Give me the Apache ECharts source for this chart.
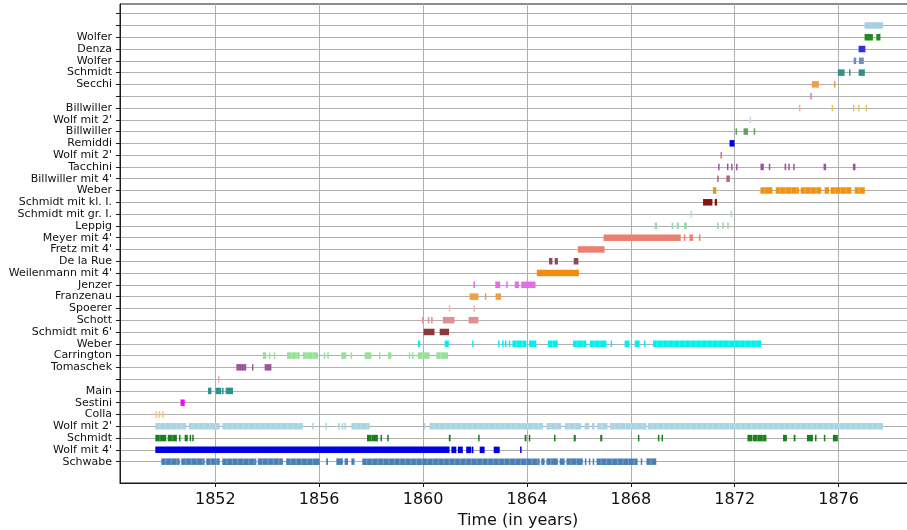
<!DOCTYPE html>
<html>
<head>
<meta charset="utf-8">
<script src="https://cdn.jsdelivr.net/npm/echarts@6/dist/echarts.min.js"></script>
<style>
  html, body { margin: 0; padding: 0; background: #fff; }
  #chart { width: 907px; height: 530px; }
</style>
</head>
<body>
<div id="chart"></div>
<script>
// Observer rows, bottom to top (empty strings are unlabeled rows)
const observers = [
  "Schwabe", "Wolf mit 4'", "Schmidt", "Wolf mit 2'", "Colla", "Sestini", "Main", "",
  "Tomaschek", "Carrington", "Weber", "Schmidt mit 6'", "Schott", "Spoerer", "Franzenau",
  "Jenzer", "Weilenmann mit 4'", "De la Rue", "Fretz mit 4'", "Meyer mit 4'", "Leppig",
  "Schmidt mit gr. I.", "Schmidt mit kl. I.", "Weber", "Billwiller mit 4'", "Tacchini",
  "Wolf mit 2'", "Remiddi", "Billwiller", "Wolf mit 2'", "Billwiller", "", "Secchi",
  "Schmidt", "Wolfer", "Denza", "Wolfer", "", ""
];

const rowColors = [
  "#4a7fb5", "#0000e6", "#1a801a", "#a8d4e4", "#f5c27a", "#ff00ff", "#2b9090", "#f0a0b8",
  "#9a5a9a", "#98e098", "#00f0f0", "#8a3a3a", "#e09090", "#f0b8b0", "#f0a040",
  "#e070e0", "#f08c10", "#8a4a5a", "#ec8070", "#ec8070", "#98d8a8",
  "#a0e0e0", "#8b1010", "#f49010", "#b06080", "#a050a0",
  "#d07878", "#0000e0", "#60a060", "#c0d8e8", "#f0c060", "#e070e0", "#f0a040",
  "#309090", "#7090b0", "#3030e0", "#208a20", "#a8d0e0", "#a8d0e0"
];

// Rows whose long runs show the individual daily strokes
const streakedRows = [0, 2, 3, 9, 10, 23];

const yearTicks = [1852, 1856, 1860, 1864, 1868, 1872, 1876];

// Observation spans in decimal years: [start, end] or [day] for a single observation
const schwabe = [[1849.92, 1850.63], [1850.69, 1851.59], [1851.65, 1852.17], [1852.27, 1853.58],
  [1853.64, 1854.60], [1854.73, 1856.02], [1856.27, 1856.34], [1856.66, 1856.91], [1856.98, 1857.11],
  [1857.24, 1857.36], [1857.66, 1864.49], [1864.55, 1864.68], [1864.75, 1865.19], [1865.26, 1865.45],
  [1865.52, 1866.15], [1866.26], [1866.41], [1866.56], [1866.68, 1868.26], [1868.40, 1868.42],
  [1868.60, 1868.98]];
const wolf4 = [[1849.69, 1861.02], [1861.09, 1861.28], [1861.34, 1861.53], [1861.66, 1861.86],
  [1861.91], [1862.18, 1862.37], [1862.72, 1862.95], [1863.74, 1863.79]];
const schmidt = [[1849.69, 1850.11], [1850.17, 1850.52], [1850.63], [1850.82, 1850.94], [1851.04],
  [1851.14], [1857.84, 1858.26], [1858.39], [1858.65], [1860.99, 1861.06], [1862.15],
  [1863.91, 1863.98], [1864.10], [1865.07], [1865.80, 1865.88], [1866.82, 1866.90], [1868.30],
  [1869.07], [1869.21], [1872.49, 1872.68], [1872.70, 1873.22], [1873.86, 1874.01],
  [1874.27, 1874.34], [1874.78, 1875.01], [1875.12], [1875.46], [1875.78, 1875.97]];
const wolf2 = [[1849.69, 1850.88], [1850.98, 1852.17], [1852.27, 1855.37], [1855.76], [1856.27],
  [1856.76], [1856.90], [1857.00], [1857.24, 1857.94], [1860.06], [1860.25, 1864.62],
  [1864.75, 1865.32], [1865.46, 1866.09], [1866.22, 1866.40], [1866.50, 1866.60], [1866.70, 1867.10],
  [1867.20, 1868.60], [1868.66, 1877.71]];
const colla = [[1849.73], [1849.85], [1849.98]];
const sestini = [[1850.66, 1850.82]];
const main = [[1851.72, 1851.85], [1852.01, 1852.23], [1852.29], [1852.40, 1852.68]];
const unnamedA = [[1852.13]];
const tomaschek = [[1852.81, 1853.19], [1853.44], [1853.90, 1854.16]];
const carrington = [[1853.83, 1853.96], [1854.09], [1854.28], [1854.76, 1855.25], [1855.37, 1855.95],
  [1856.21], [1856.34], [1856.85, 1857.04], [1857.24], [1857.75, 1858.01], [1858.33],
  [1858.65, 1858.78], [1859.48], [1859.60], [1859.80, 1860.25], [1860.51, 1860.96]];
const weberA = [[1859.80, 1859.89], [1860.83, 1860.99], [1861.92], [1862.92], [1863.07], [1863.18],
  [1863.33], [1863.44, 1863.98], [1864.08, 1864.36], [1864.81, 1865.19], [1865.77, 1866.29],
  [1866.42, 1867.06], [1867.25], [1867.76, 1867.95], [1868.15, 1868.34], [1868.53],
  [1868.85, 1873.02]];
const schmidt6 = [[1860.02, 1860.44], [1860.64, 1861.00]];
const schott = [[1859.99], [1860.21], [1860.34], [1860.76, 1861.21], [1861.75, 1862.13]];
const spoerer = [[1861.02], [1861.97]];
const franzenau = [[1861.79, 1862.13], [1862.41], [1862.79, 1863.00]];
const jenzer = [[1861.97], [1862.78, 1862.97], [1863.23], [1863.53, 1863.69], [1863.78, 1864.33]];
const weilenmann = [[1864.38, 1866.00]];
const delaRue = [[1864.85, 1864.98], [1865.07, 1865.19], [1865.80, 1865.98]];
const fretz = [[1865.96, 1866.99]];
const meyer = [[1866.95, 1869.92], [1870.07], [1870.26, 1870.39], [1870.65]];
const leppig = [[1868.92, 1869.01], [1869.60], [1869.77, 1869.85], [1870.05, 1870.16], [1871.35],
  [1871.55], [1871.74]];
const schmidtGr = [[1870.33], [1871.87]];
const schmidtKl = [[1870.78, 1871.14], [1871.23, 1871.32]];
const weberB = [[1871.16, 1871.29], [1872.99, 1873.45], [1873.58, 1874.47], [1874.54, 1875.33],
  [1875.46, 1875.63], [1875.69, 1876.49], [1876.62, 1877.01]];
const billwiller4 = [[1871.33, 1871.38], [1871.68, 1871.81]];
const tacchini = [[1871.39], [1871.71, 1871.75], [1871.89], [1872.08], [1872.99, 1873.12], [1873.34],
  [1873.92, 1873.98], [1874.09], [1874.28], [1875.42, 1875.52], [1876.55, 1876.65]];
const wolf2b = [[1871.48]];
const remiddi = [[1871.80, 1871.99]];
const billwillerA = [[1872.06], [1872.34, 1872.51], [1872.76]];
const wolf2c = [[1872.60]];
const billwillerB = [[1874.50], [1875.76], [1876.58], [1876.78], [1877.07]];
const unnamedB = [[1874.91, 1874.97]];
const secchi = [[1874.97, 1875.24], [1875.85]];
const schmidtB = [[1875.97, 1876.23], [1876.43], [1876.77, 1877.01]];
const wolferA = [[1876.58, 1876.68], [1876.78, 1876.97]];
const denza = [[1876.77, 1877.03]];
const wolferB = [[1877.00, 1877.32], [1877.45, 1877.61]];
const unnamedC = [[1877.00, 1877.71]];
const unnamedD = [];

const rows = [schwabe, wolf4, schmidt, wolf2, colla, sestini, main, unnamedA, tomaschek,
  carrington, weberA, schmidt6, schott, spoerer, franzenau, jenzer, weilenmann, delaRue, fretz,
  meyer, leppig, schmidtGr, schmidtKl, weberB, billwiller4, tacchini, wolf2b, remiddi,
  billwillerA, wolf2c, billwillerB, unnamedB, secchi, schmidtB, wolferA, denza, wolferB,
  unnamedC, unnamedD];

const spanData = [];
rows.forEach((spans, r) => {
  spans.forEach(s => spanData.push([s[0], s.length > 1 ? s[1] : s[0], r]));
});

const rowIdx = observers.map((_, i) => i);
const font = "DejaVu Sans";

const chart = echarts.init(document.getElementById('chart'));
chart.setOption({
  animation: false,
  backgroundColor: '#ffffff',
  grid: {
    left: 120, top: 4, right: -9, bottom: 47, outerBoundsMode: 'none', containLabel: false,
    show: true, borderColor: '#1a1a1a', borderWidth: 1
  },
  xAxis: {
    type: 'value', min: 1848.33, max: 1878.98,
    name: 'Time (in years)', nameLocation: 'middle', nameGap: 25,
    nameTextStyle: { fontFamily: font, fontSize: 16, color: '#111' },
    axisLine: { show: true, onZero: false, lineStyle: { color: '#1a1a1a', width: 1 } },
    axisTick: { show: true, length: 4, customValues: yearTicks, lineStyle: { color: '#1a1a1a' } },
    axisLabel: {
      customValues: yearTicks, fontFamily: font, fontSize: 16, color: '#111', margin: 9,
      formatter: v => String(Math.round(v))
    },
    splitLine: { show: true, lineStyle: { color: '#b0b0b0', width: 1 } }
  },
  yAxis: {
    type: 'value', min: -1.81, max: 38.82,
    axisLine: { show: true, onZero: false, lineStyle: { color: '#1a1a1a', width: 1 } },
    axisTick: { show: true, length: 4, customValues: rowIdx, lineStyle: { color: '#1a1a1a' } },
    axisLabel: {
      customValues: rowIdx, fontFamily: font, fontSize: 11, color: '#111', margin: 8,
      formatter: v => observers[Math.round(v)] || ''
    },
    splitLine: { show: true, lineStyle: { color: '#b0b0b0', width: 1 } }
  },
  series: [{
    type: 'custom',
    clip: true,
    data: spanData,
    renderItem: function (params, api) {
      const r = api.value(2);
      const p0 = api.coord([api.value(0), r]);
      const p1 = api.coord([api.value(1), r]);
      const h = 6.5;
      let w = p1[0] - p0[0];
      let x = p0[0];
      if (w < 1.5) { x = (p0[0] + p1[0]) / 2 - 0.75; w = 1.5; }
      const top = p0[1] - h / 2;
      const children = [{
        type: 'rect',
        shape: { x: x, y: top, width: w, height: h },
        style: { fill: rowColors[r] }
      }];
      // faint separators between the daily strokes of a dense run
      if (streakedRows.indexOf(r) >= 0 && w > 8) {
        for (let sx = x + 4.5; sx < x + w - 2; sx += 5.5) {
          children.push({
            type: 'line',
            shape: { x1: sx, y1: top, x2: sx, y2: top + h },
            style: { stroke: 'rgba(255,255,255,0.3)', lineWidth: 0.8 }
          });
        }
      }
      return { type: 'group', children: children };
    }
  }]
});
</script>
</body>
</html>
